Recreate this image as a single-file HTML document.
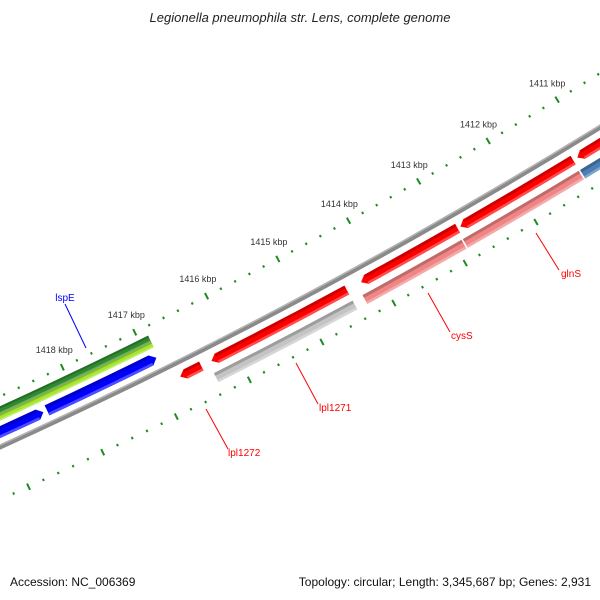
<!DOCTYPE html>
<html><head><meta charset="utf-8"><style>
html,body{margin:0;padding:0;background:#fff;}
svg{display:block;font-family:"Liberation Sans",sans-serif;}
</style></head><body>
<svg id="map" width="600" height="600" viewBox="0 0 600 600">
<rect width="600" height="600" fill="#fff"/>
<text x="300" y="22" text-anchor="middle" font-size="13" font-style="italic" fill="#222">Legionella pneumophila str. Lens, complete genome</text>
<g id="ticks"></g>
<g id="feats"></g>
<g id="callouts">
<line x1="65" y1="304" x2="86" y2="348" stroke="#0000ff" stroke-width="1"/>
<text x="65" y="301" text-anchor="middle" font-size="10" fill="#0000ff">lspE</text>
<line x1="206" y1="409" x2="228" y2="449" stroke="#ff0000" stroke-width="1"/>
<text x="228" y="456" font-size="10" fill="#ff0000">lpl1272</text>
<line x1="296" y1="363" x2="318" y2="404" stroke="#ff0000" stroke-width="1"/>
<text x="319" y="411" font-size="10" fill="#ff0000">lpl1271</text>
<line x1="428" y1="293" x2="450" y2="332" stroke="#ff0000" stroke-width="1"/>
<text x="451" y="339" font-size="10" fill="#ff0000">cysS</text>
<line x1="536" y1="233" x2="559" y2="270" stroke="#ff0000" stroke-width="1"/>
<text x="561" y="277" font-size="10" fill="#ff0000">glnS</text>
</g>
<text x="10" y="586" font-size="12" fill="#111">Accession: NC_006369</text>
<text x="591" y="586" text-anchor="end" font-size="12" fill="#111">Topology: circular; Length: 3,345,687 bp; Genes: 2,931</text>
</svg>
<script>
// ---- data ----
const tickLabels = [1411, 1412, 1413, 1414, 1415, 1416, 1417, 1418];
const featNames = ['green-feature','lime-feature','blue-feature-1','blue-feature-2','red-feature-lpl1272','red-feature-2','red-feature-3','red-feature-4','red-feature-5','grey-feature-lpl1271','pink-feature-cyss','pink-feature-glns','steelblue-feature'];
const featStart = [1416.87, 1416.87, 1418.45, 1416.90, 1416.45, 1414.43, 1412.87, 1411.22, 1409.0, 1414.43, 1412.90, 1411.23, 1409.0];
const featEnd   = [1421.0, 1421.0, 1421.0, 1418.40, 1416.74, 1416.31, 1414.23, 1412.83, 1411.16, 1416.35, 1414.29, 1412.88, 1411.21];
const featRow   = ['green','lime','blue','blue','red','red','red','red','red','grey','grey','grey','grey'];
const featColor = ['#2f8a2f','#a6e630','#0000ff','#0000ff','#ff0000','#ff0000','#ff0000','#ff0000','#ff0000','#c4c4c4','#f08585','#f08585','#4a7fb5'];
const featDir   = [0, 0, -1, -1, 1, 1, 1, 1, 1, 0, 0, 0, 0];

// ---- geometry ----
const NS = 'http://www.w3.org/2000/svg';
const CX = -2235, CY = -4471, R0 = 5402;
const rows = {green:[5365,5372], lime:[5372,5378], blue:[5383,5394], red:[5411,5421], grey:[5428,5438]};
function ang(k){ return (58.58 + 0.86*(k-1411)) * Math.PI/180; }
function pt(r,k){ const a = ang(k); return [CX + r*Math.cos(a), CY + r*Math.sin(a)]; }
function P(p){ return p[0].toFixed(2)+' '+p[1].toFixed(2); }
function band(r1,r2,k1,k2){
  return 'M'+P(pt(r2,k1))+' A'+r2+' '+r2+' 0 0 1 '+P(pt(r2,k2))+' L'+P(pt(r1,k2))+' A'+r1+' '+r1+' 0 0 0 '+P(pt(r1,k1))+' Z';
}
function shape(r1,r2,k1,k2,dir){
  const h = 0.074, rm = (r1+r2)/2;
  if (dir === 1) {
    return 'M'+P(pt(r2,k1))+' A'+r2+' '+r2+' 0 0 1 '+P(pt(r2,k2-h))+' L'+P(pt(rm,k2))+' L'+P(pt(r1,k2-h))+' A'+r1+' '+r1+' 0 0 0 '+P(pt(r1,k1))+' Z';
  }
  if (dir === -1) {
    return 'M'+P(pt(rm,k1))+' L'+P(pt(r2,k1+h))+' A'+r2+' '+r2+' 0 0 1 '+P(pt(r2,k2))+' L'+P(pt(r1,k2))+' A'+r1+' '+r1+' 0 0 0 '+P(pt(r1,k1+h))+' Z';
  }
  return band(r1,r2,k1,k2);
}
function shade(hex, f){
  const n = parseInt(hex.slice(1),16);
  let r=(n>>16)&255, g=(n>>8)&255, b=n&255;
  if (f<0){ r=Math.round(r*(1+f)); g=Math.round(g*(1+f)); b=Math.round(b*(1+f)); }
  else { r=Math.round(r+(255-r)*f); g=Math.round(g+(255-g)*f); b=Math.round(b+(255-b)*f); }
  return 'rgb('+r+','+g+','+b+')';
}

// ---- backbone ----
const feats = document.getElementById('feats');
const bb = document.createElementNS(NS,'path');
bb.setAttribute('d', band(R0-2.5, R0+2.5, 1405, 1422));
bb.setAttribute('fill', '#8a8a8a');


feats.appendChild(bb);
const bbHi = document.createElementNS(NS,'path');
bbHi.setAttribute('d', band(R0-2.5, R0-1, 1405, 1422));
bbHi.setAttribute('fill', '#b5b5b5');


feats.appendChild(bbHi);

// ---- features ----
for (let i=0;i<featNames.length;i++){
  const rr = rows[featRow[i]], r1 = rr[0], r2 = rr[1];
  const k1 = featStart[i], k2 = featEnd[i], d = featDir[i];
  const g = document.createElementNS(NS,'g');
  
  
  const main = document.createElementNS(NS,'path');
  main.setAttribute('d', shape(r1,r2,k1,k2,d));
  main.setAttribute('fill', featColor[i]);
  
  
  g.appendChild(main);
  const h = d===0 ? 0 : 0.074;
  const a1 = d===-1 ? k1+h : k1, a2 = d===1 ? k2-h : k2;
  const th = (r2-r1);
  const top = document.createElementNS(NS,'path');
  top.setAttribute('d', band(r1, r1+th*0.3, a1, a2));
  top.setAttribute('fill', shade(featColor[i], -0.2));
  
  
  g.appendChild(top);
  const bot = document.createElementNS(NS,'path');
  bot.setAttribute('d', band(r2-th*0.25, r2, a1, a2));
  bot.setAttribute('fill', shade(featColor[i], 0.3));
  
  
  g.appendChild(bot);
  feats.appendChild(g);
}

// ---- ticks ----
const tg = document.getElementById('ticks');
const rowsR = [5356, 5450];
for (let s=0; s<=70; s++){
  const k = 1407 + s*0.2;
  const major = (s % 5) === 0;
  for (const r of rowsR){
    const len = major ? 3.5 : 1.2;
    const p1 = pt(r-len,k), p2 = pt(r+len,k);
    const ln = document.createElementNS(NS,'line');
    ln.setAttribute('x1',p1[0]); ln.setAttribute('y1',p1[1]);
    ln.setAttribute('x2',p2[0]); ln.setAttribute('y2',p2[1]);
    ln.setAttribute('stroke','#1f8a1f');
    ln.setAttribute('stroke-width', major ? 2 : 2);
    
    
    tg.appendChild(ln);
  }
}
for (let i=0;i<tickLabels.length;i++){
  const p = pt(5337, tickLabels[i]);
  const t = document.createElementNS(NS,'text');
  t.setAttribute('x', p[0]); t.setAttribute('y', p[1]+3);
  t.setAttribute('text-anchor','middle');
  t.setAttribute('font-size','9');
  t.setAttribute('fill','#333');
  
  
  t.textContent = tickLabels[i] + ' kbp';
  tg.appendChild(t);
}
</script>
</body></html>
